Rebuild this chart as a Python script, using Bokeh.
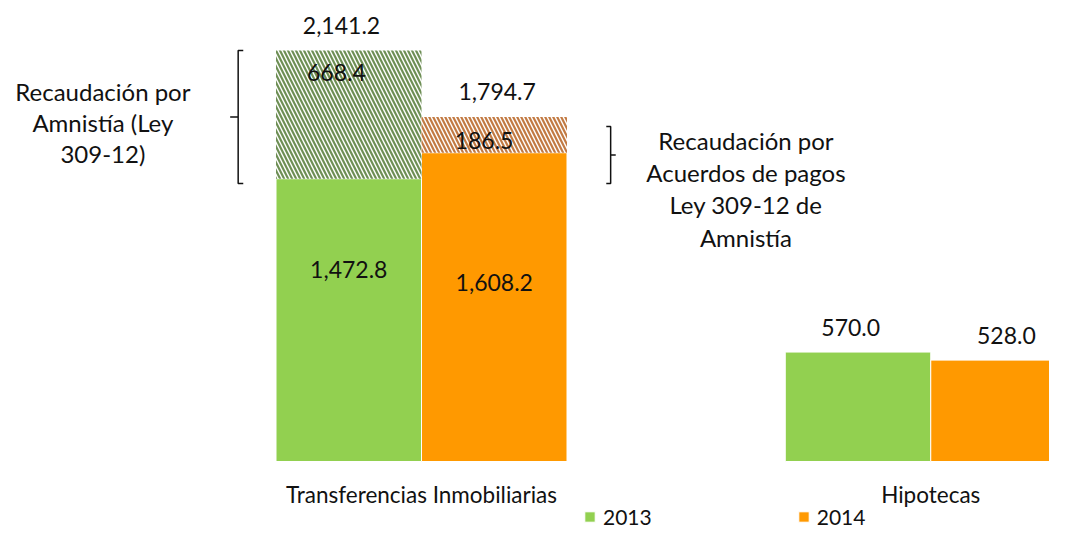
from bokeh.plotting import figure
from bokeh.models import Range1d, Legend, LegendItem
from bokeh.core.properties import value
from bokeh.embed import file_html
from bokeh.resources import INLINE

# ---------------- data ----------------
categories = ["Transferencias Inmobiliarias", "Hipotecas"]
years = ["2013", "2014"]
base_2013 = [1472.8, 570.0]
base_2014 = [1608.2, 528.0]
amnistia_2013 = [668.4, 0.0]      # Recaudación por Amnistía (Ley 309-12)
acuerdos_2014 = [186.5, 0.0]      # Recaudación por Acuerdos de pagos
total_labels_2013 = ["2,141.2", "570.0"]
total_labels_2014 = ["1,794.7", "528.0"]
base_labels_2013 = ["1,472.8", None]
base_labels_2014 = ["1,608.2", None]
seg_labels_2013 = ["668.4", None]
seg_labels_2014 = ["186.5", None]
note_left = ["Recaudación por", "Amnistía (Ley", "309-12)"]
note_right = ["Recaudación por", "Acuerdos de pagos", "Ley 309-12 de", "Amnistía"]

# ---------------- layout ----------------
W, H = 1049, 531
PX_X = 145.5          # pixels per bar width
ORIGIN_X = 421        # canvas px of first group centre
PX_Y = 0.192          # pixels per unit
BASE_Y = 70           # px from bottom for y=0
GROUP_SPACING = 3.5
BAR_W = 1.0
FONT_NAME = "Lato"
FONT = value(FONT_NAME)
FS_VAL = "23px"
FS_CAT = "22.5px"
FS_NOTE = "24px"
FS_LEG = "21px"
TXT_COLOR = "#111111"
GREEN = "#92D050"
ORANGE = "#FF9900"
GREEN_H = "#6E8F55"
ORANGE_H = "#C27A43"

p = figure(width=W, height=H, output_backend="svg", toolbar_location=None,
           x_range=Range1d(-ORIGIN_X / PX_X, (W - ORIGIN_X) / PX_X),
           y_range=Range1d(-BASE_Y / PX_Y, (H - BASE_Y) / PX_Y),
           min_border=0, outline_line_color=None, background_fill_color="white",
           border_fill_color="white")
p.axis.visible = False
p.grid.visible = False

gx = [i * GROUP_SPACING for i in range(len(categories))]
x13 = [g - BAR_W / 2 for g in gx]
x14 = [g + BAR_W / 2 for g in gx]
tot13 = [b + a for b, a in zip(base_2013, amnistia_2013)]
tot14 = [b + a for b, a in zip(base_2014, acuerdos_2014)]

r13 = p.vbar(x=x13, width=BAR_W, top=base_2013, bottom=0, fill_color=GREEN, line_color="white", line_width=1)
r14 = p.vbar(x=x14, width=BAR_W, top=base_2014, bottom=0, fill_color=ORANGE, line_color="white", line_width=1)

# hatched stacked segments
h13 = [(x, b, t) for x, b, t, a in zip(x13, base_2013, tot13, amnistia_2013) if a > 0]
h14 = [(x, b, t) for x, b, t, a in zip(x14, base_2014, tot14, acuerdos_2014) if a > 0]
p.vbar(x=[h[0] for h in h13], width=BAR_W, bottom=[h[1] for h in h13], top=[h[2] for h in h13],
       fill_color="white", line_color=None, hatch_pattern="\\", hatch_color=GREEN_H,
       hatch_scale=8, hatch_weight=2.2)
p.vbar(x=[h[0] for h in h14], width=BAR_W, bottom=[h[1] for h in h14], top=[h[2] for h in h14],
       fill_color="white", line_color=None, hatch_pattern="\\", hatch_color=ORANGE_H,
       hatch_scale=8, hatch_weight=2.2)

def txt(x, y, t, yoff=0, fs=FS_VAL):
    p.text(x=[x], y=[y], text=[t], text_font=FONT, text_font_size=fs, text_color=TXT_COLOR,
           text_align="center", text_baseline="middle", y_offset=yoff)

# total labels above bars
for x, t, lab in zip(x13, tot13, total_labels_2013):
    txt(x - 0.05, t, lab, yoff=-25)
for x, t, lab in zip(x14, tot14, total_labels_2014):
    txt(x + 0.02, t, lab, yoff=-25)

# labels inside base bars
for x, b, lab in zip(x13, base_2013, base_labels_2013):
    if lab:
        txt(x, b * 0.68, lab)
for x, b, lab in zip(x14, base_2014, base_labels_2014):
    if lab:
        txt(x, b * 0.58, lab)

# labels inside hatched segments
for x, b, t, lab in zip(x13, base_2013, tot13, seg_labels_2013):
    if lab:
        txt(x - 0.085, b + (t - b) * 0.83, lab)
for x, b, t, lab in zip(x14, base_2014, tot14, seg_labels_2014):
    if lab:
        txt(x - 0.07, (b + t) / 2, lab, yoff=6)

# category labels
for g, c in zip(gx, categories):
    txt(g, 0, c, yoff=33, fs=FS_CAT)

# braces
def brace(xv, lo, hi, hook, tip):
    mid = (lo + hi) / 2
    p.line(x=[xv + hook, xv, xv, xv + tip, xv, xv, xv + hook],
           y=[hi, hi, mid, mid, mid, lo, lo], line_color=TXT_COLOR, line_width=1.5)

i0 = 0
lo13, hi13 = base_2013[i0], tot13[i0]
brace(x13[i0] - 0.76, lo13 - 25, hi13, 0.035, -0.055)
lo14, hi14 = base_2014[i0], tot14[i0]
brace(x14[i0] + 0.8, lo14 - 160, hi14 - 50, -0.03, 0.035)

# notes
lx = x13[i0] - 1.69
for k, line in enumerate(note_left):
    txt(lx, (lo13 + hi13) / 2, line, yoff=(k - 1) * 31 + 8, fs=FS_NOTE)
rx = x14[i0] + 1.73
for k, line in enumerate(note_right):
    txt(rx, (lo14 + hi14) / 2, line, yoff=(k - 1.5) * 32.3 + 54, fs=FS_NOTE)

legend = Legend(items=[LegendItem(label=years[0], renderers=[r13]),
                       LegendItem(label=years[1], renderers=[r14])],
                orientation="horizontal", location=(583, 2), glyph_width=13, glyph_height=13,
                label_standoff=7, spacing=145, padding=0, margin=0,
                border_line_alpha=0, background_fill_alpha=0,
                label_text_font=FONT_NAME, label_text_font_size=FS_LEG, label_text_color=TXT_COLOR)
p.add_layout(legend)

open("out.html", "w").write(file_html(p, INLINE))
